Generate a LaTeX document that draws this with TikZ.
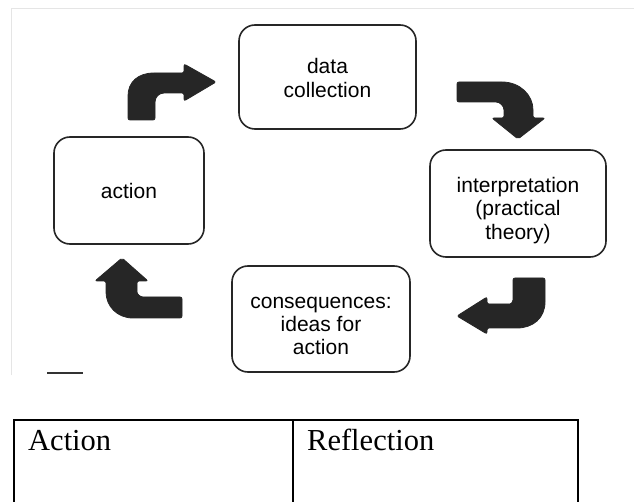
\documentclass[tikz,border=0pt]{standalone}
\usepackage{fontspec}
\setmainfont{Liberation Serif}
\newfontfamily\boxfont{Liberation Sans}
\begin{document}
\begin{tikzpicture}[x=1pt,y=-1pt,
  box/.style={draw=black!85, line width=1.6pt, rounded corners=16pt, inner sep=0pt},
  boxtext/.style={align=center, font=\boxfont\fontsize{21}{23.3}\selectfont, inner sep=0pt},
  bent/.style={fill=black!85, draw=black!85, line width=0.8pt, rounded corners=2pt},
  tabline/.style={line width=2pt, draw=black},
  tabtext/.style={anchor=base west, font=\fontsize{30.5}{36}\selectfont, inner sep=0pt}]
\useasboundingbox (0,0) rectangle (634,502);
\fill[white] (0,0) rectangle (634,502);
% faint scan border
\draw[black!10, line width=1pt] (11,375) -- (11,9) -- (634,9);
\draw[black!80, line width=2.5pt] (47,373) -- (83,373);
% boxes
\node[box, minimum width=177pt, minimum height=104pt,
  label={[boxtext, yshift=-1pt]center:{data\\collection}}] (dc) at (327.5,77) {};
\node[box, minimum width=176pt, minimum height=107pt,
  label={[boxtext, yshift=-7pt]center:{interpretation\\(practical\\theory)}}] (ip) at (518,203.5) {};
\node[box, minimum width=150pt, minimum height=107pt,
  label={[boxtext]center:{action}}] (ac) at (129,190.5) {};
\node[box, minimum width=178pt, minimum height=106pt,
  label={[boxtext, yshift=-7pt]center:{consequences:\\ideas for\\action}}] (cq) at (321,319) {};
% bent arrows
\fill[bent] (128,120) -- (128,98) .. controls (128,82) and (138,73) .. (156,73) -- (184,73) -- (184,64)
  -- (216,82) -- (184,101) -- (184,93) -- (166,93) .. controls (159,93) and (155,97) .. (155,104)
  -- (155,120) -- cycle;
\fill[bent] (457,82) -- (500,82) .. controls (520,82) and (533,95) .. (533,112) -- (533,118) -- (545,118)
  -- (518,139) -- (492,118) -- (504,118) -- (504,112) .. controls (504,106) and (500,102) .. (494,102)
  -- (457,102) -- cycle;
\fill[bent] (513,278) -- (545,278) -- (545,300) .. controls (545,318) and (533,328) .. (515,328)
  -- (487,328) -- (487,334) -- (457,316) -- (487,297) -- (487,304) -- (508,304)
  .. controls (511,304) and (513,302) .. (513,298) -- cycle;
\fill[bent] (182,297) -- (182,318) -- (135,318) .. controls (117,318) and (106,306) .. (106,290)
  -- (106,281) -- (95,281) -- (122,258) -- (148,281) -- (137,281) -- (137,290)
  .. controls (137,294) and (140,297) .. (145,297) -- cycle;
% table
\draw[tabline] (14,502) -- (14,420) -- (578,420) -- (578,502);
\draw[tabline] (293,420) -- (293,502);
\node[tabtext] (tA) at (28,450) {Action};
\node[tabtext] (tR) at (307,450) {Reflection};
\end{tikzpicture}
\end{document}
